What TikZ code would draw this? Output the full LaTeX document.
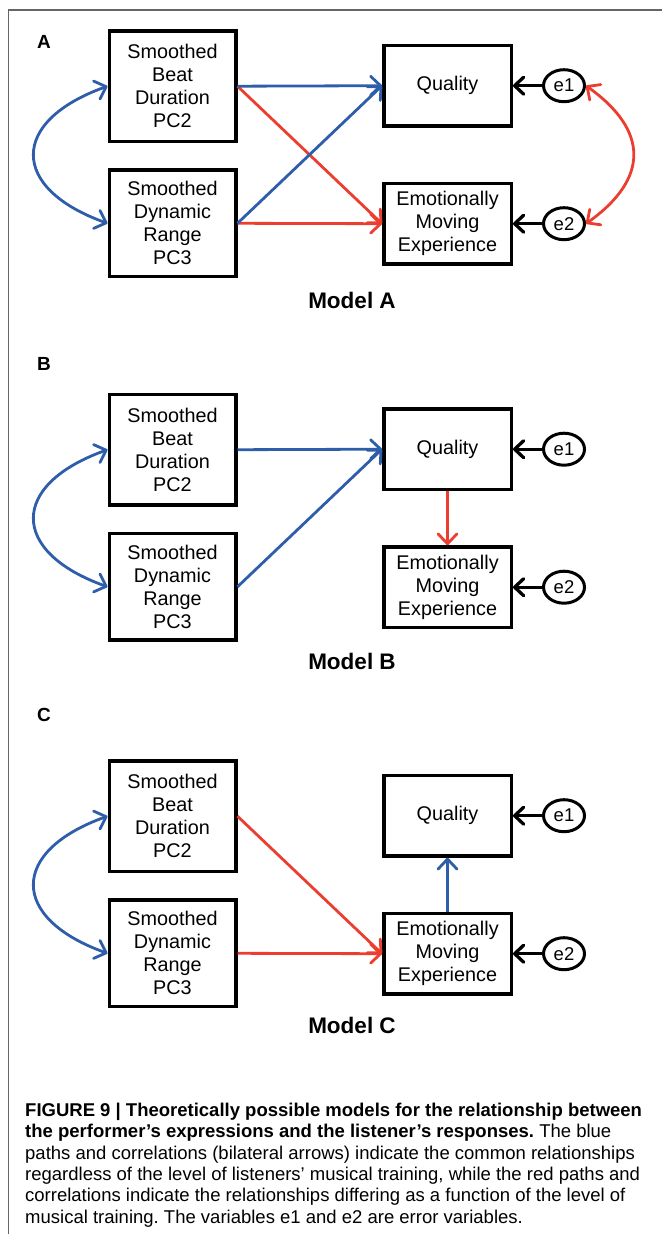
\documentclass[tikz,border=0pt]{standalone}
\usepackage{fontspec}
\setmainfont{Liberation Sans}
\usetikzlibrary{positioning,arrows.meta,shapes.geometric}
\definecolor{pathblue}{RGB}{46,94,170}
\definecolor{pathred}{RGB}{236,62,48}
\frenchspacing

\begin{document}
\begin{tikzpicture}[x=1pt, y=-1pt,
predbox/.style={rectangle, draw=black, line width=3.5pt, inner sep=0pt, minimum width=126.5pt, align=center, font=\fontsize{19.8}{23}\selectfont},
outbox/.style={predbox, minimum width=127.5pt, minimum height=80.5pt},
errnode/.style={ellipse, draw=black, line width=3pt, inner sep=0pt, minimum width=41pt, minimum height=32pt, font=\fontsize{18.5}{20}\selectfont},
bluepath/.style={draw=pathblue, line width=2.8pt, -{Straight Barb[length=10pt,width=19pt,round]}},
redpath/.style={bluepath, draw=pathred},
errpath/.style={draw=black, line width=3.3pt, -{Straight Barb[length=9pt,width=17pt,round]}},
bluecorr/.style={draw=pathblue, line width=2.8pt, {Straight Barb[length=10pt,width=19pt,round]}-{Straight Barb[length=10pt,width=19pt,round]}},
redcorr/.style={bluecorr, draw=pathred},
panel/.style={font=\fontsize{19}{22}\selectfont\bfseries},
modelname/.style={font=\fontsize{22.5}{26}\selectfont\bfseries},
]
\useasboundingbox (0,0) rectangle (662,1234);

%Frame
\draw[black!60, line width=1.2pt] (8.3,1234) -- (8.3,10) -- (662,10);

%Model A
\node[panel] (alabel) at (44,42) {A};
\node[predbox, minimum height=110.5pt] (abeat) at (172.5,86.2) {Smoothed\\Beat\\Duration\\PC2};
\node[predbox, minimum height=106.5pt] (adyn)  at (172.5,223.3) {Smoothed\\Dynamic\\Range\\PC3};
\node[outbox] (aqual) at (447.5,85.7) {Quality};
\node[outbox] (amove) at (447.5,223.7) {Emotionally\\Moving\\Experience};
\node[errnode] (ae1) [right=29pt of aqual] {e1};
\node[errnode] (ae2) [right=29pt of amove] {e2};
\node[modelname] (aname) at (352,300) {Model A};

\draw[redpath] (abeat.east) -- (amove.west);
\draw[redpath] (adyn.east) -- (amove.west);
\draw[bluepath] (abeat.east) -- (aqual.west);
\draw[bluepath] (adyn.east) -- (aqual.west);
\draw[errpath] (ae1) -- (aqual);
\draw[errpath] (ae2) -- (amove);
\draw[bluecorr] (abeat.west) .. controls +(-98,35) and +(-98,-35) .. (adyn.west);
\draw[redcorr] (ae1.east) .. controls +(63,45) and +(63,-45) .. (ae2.east);

%Model B
\node[panel] (blabel) at (44,364) {B};
\begin{scope}[shift={(0,363.5)}]
\node[predbox, minimum height=110.5pt] (bbeat) at (172.5,86.2) {Smoothed\\Beat\\Duration\\PC2};
\node[predbox, minimum height=106.5pt] (bdyn)  at (172.5,223.3) {Smoothed\\Dynamic\\Range\\PC3};
\node[outbox] (bqual) at (447.5,85.7) {Quality};
\node[outbox] (bmove) at (447.5,223.7) {Emotionally\\Moving\\Experience};
\node[errnode] (be1) [right=29pt of bqual] {e1};
\node[errnode] (be2) [right=29pt of bmove] {e2};

\draw[bluepath] (bbeat.east) -- (bqual.west);
\draw[bluepath] (bdyn.east) -- (bqual.west);
\draw[redpath] (bqual.south) -- (bmove.north);
\draw[errpath] (be1) -- (bqual);
\draw[errpath] (be2) -- (bmove);
\draw[bluecorr] (bbeat.west) .. controls +(-98,35) and +(-98,-35) .. (bdyn.west);
\end{scope}
\node[modelname] (bname) at (352,661.7) {Model B};

%Model C
\node[panel] (clabel) at (44,715) {C};
\begin{scope}[shift={(0,730)}]
\node[predbox, minimum height=110.5pt] (cbeat) at (172.5,86.2) {Smoothed\\Beat\\Duration\\PC2};
\node[predbox, minimum height=106.5pt] (cdyn)  at (172.5,223.3) {Smoothed\\Dynamic\\Range\\PC3};
\node[outbox] (cqual) at (447.5,85.7) {Quality};
\node[outbox] (cmove) at (447.5,223.7) {Emotionally\\Moving\\Experience};
\node[errnode] (ce1) [right=29pt of cqual] {e1};
\node[errnode] (ce2) [right=29pt of cmove] {e2};

\draw[redpath] (cbeat.east) -- (cmove.west);
\draw[redpath] (cdyn.east) -- (cmove.west);
\draw[bluepath] (cmove.north) -- (cqual.south);
\draw[errpath] (ce1) -- (cqual);
\draw[errpath] (ce2) -- (cmove);
\draw[bluecorr] (cbeat.west) .. controls +(-98,35) and +(-98,-35) .. (cdyn.west);
\end{scope}
\node[modelname] (cname) at (352,1025) {Model C};

%Caption
\node[anchor=north west, inner sep=0pt, align=left, font=\fontsize{18.5}{21.3}\selectfont] (caption) at (25,1103)
{\textbf{FIGURE 9 | Theoretically possible models for the relationship between}\\
\textbf{the performer’s expressions and the listener’s responses.} The blue\\
paths and correlations (bilateral arrows) indicate the common relationships\\
regardless of the level of listeners’ musical training, while the red paths and\\
correlations indicate the relationships differing as a function of the level of\\
musical training. The variables e1 and e2 are error variables.};
\end{tikzpicture}
\end{document}
